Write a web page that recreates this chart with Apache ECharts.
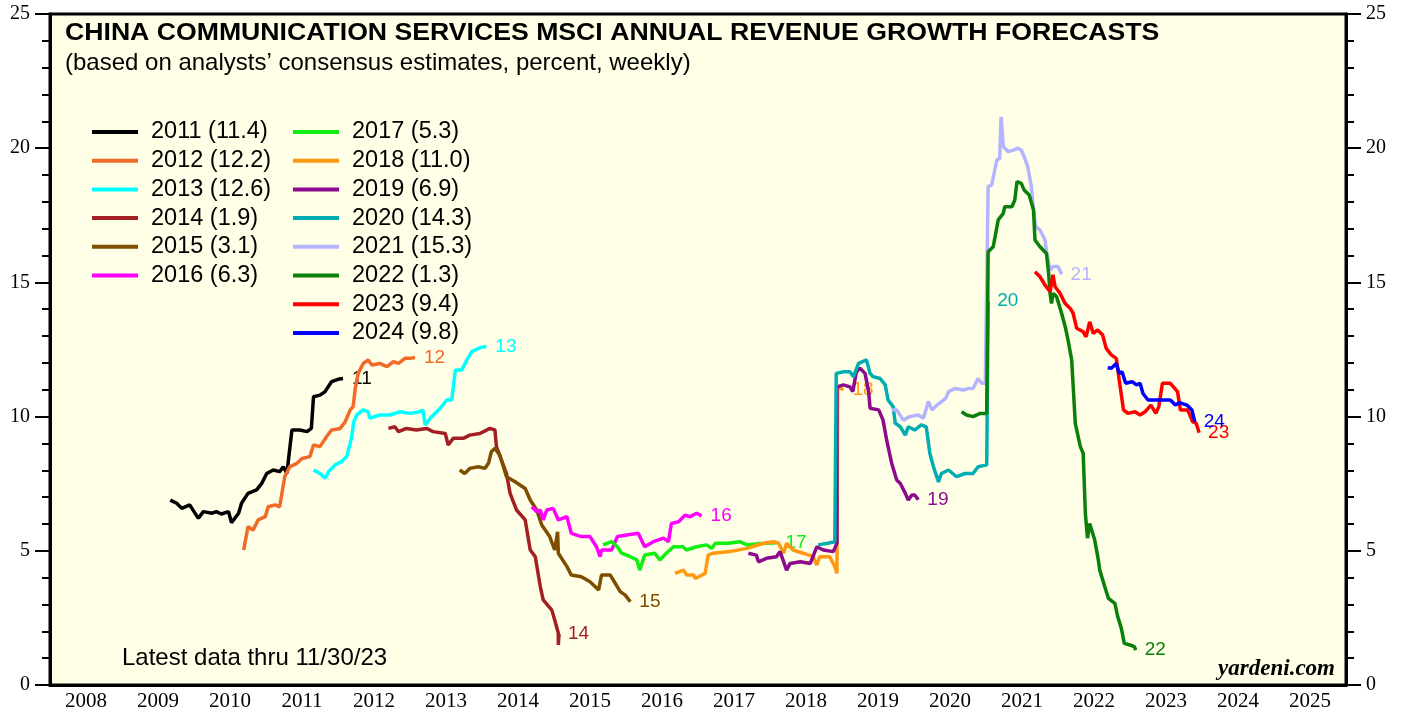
<!DOCTYPE html>
<html>
<head>
<meta charset="utf-8">
<script src="https://cdn.jsdelivr.net/npm/echarts@6/dist/echarts.min.js"></script>
<style>
  html, body { margin: 0; padding: 0; background: #fff; }
  #chart { width: 1405px; height: 719px; }
</style>
</head>
<body>
<div id="chart"></div>
<script>
// x axis labels (one per calendar year)
const yearLabels = ['2008', '2009', '2010', '2011', '2012', '2013', '2014', '2015', '2016',
  '2017', '2018', '2019', '2020', '2021', '2022', '2023', '2024', '2025'];

// forecast years and their latest values (legend)
const forecastYears = ['2011', '2012', '2013', '2014', '2015', '2016', '2017',
  '2018', '2019', '2020', '2021', '2022', '2023', '2024'];
const latestValues = [11.4, 12.2, 12.6, 1.9, 3.1, 6.3, 5.3, 11.0, 6.9, 14.3, 15.3, 1.3, 9.4, 9.8];

// weekly forecasts: [decimal year, percent]
const f2011 = [[2009.67, 6.89], [2009.76, 6.77], [2009.83, 6.58], [2009.94, 6.71], [2010.06, 6.21],
  [2010.13, 6.46], [2010.25, 6.40], [2010.31, 6.46], [2010.38, 6.37], [2010.48, 6.46], [2010.52, 6.05],
  [2010.62, 6.40], [2010.66, 6.77], [2010.75, 7.14], [2010.87, 7.27], [2010.94, 7.51], [2011.01, 7.88],
  [2011.10, 8.01], [2011.19, 7.95], [2011.24, 8.13], [2011.29, 7.88], [2011.36, 9.50], [2011.47, 9.50],
  [2011.57, 9.44], [2011.63, 9.56], [2011.66, 10.74], [2011.75, 10.80], [2011.82, 10.93], [2011.91, 11.30],
  [2012.00, 11.39], [2012.07, 11.42]];
const f2012 = [[2010.69, 5.03], [2010.75, 5.90], [2010.82, 5.77], [2010.89, 6.15], [2010.99, 6.27],
  [2011.03, 6.64], [2011.13, 6.71], [2011.19, 6.64], [2011.26, 7.76], [2011.33, 8.13], [2011.43, 8.26],
  [2011.50, 8.44], [2011.61, 8.51], [2011.66, 8.94], [2011.75, 8.88], [2011.84, 9.25], [2011.91, 9.50],
  [2012.03, 9.56], [2012.10, 9.81], [2012.17, 10.25], [2012.21, 10.37], [2012.24, 11.05], [2012.28, 11.61],
  [2012.35, 11.98], [2012.42, 12.11], [2012.47, 11.92], [2012.58, 11.98], [2012.68, 11.86], [2012.77, 12.05],
  [2012.84, 11.98], [2012.93, 12.17], [2013.00, 12.17], [2013.07, 12.2]];
const f2013 = [[2011.66, 8.01], [2011.75, 7.88], [2011.82, 7.70], [2011.87, 7.95], [2011.96, 8.20],
  [2012.05, 8.32], [2012.12, 8.51], [2012.17, 9.00], [2012.19, 9.25], [2012.22, 9.81], [2012.26, 10.06],
  [2012.35, 10.25], [2012.42, 10.18], [2012.44, 9.94], [2012.58, 10.06], [2012.72, 10.06], [2012.86, 10.18],
  [2013.00, 10.12], [2013.14, 10.18], [2013.18, 10.25], [2013.21, 9.69], [2013.28, 9.94], [2013.42, 10.31],
  [2013.51, 10.62], [2013.58, 10.62], [2013.63, 11.74], [2013.72, 11.74], [2013.79, 12.11], [2013.86, 12.42],
  [2013.95, 12.54], [2014.02, 12.60], [2014.06, 12.6]];
const f2014 = [[2012.70, 9.56], [2012.79, 9.62], [2012.84, 9.44], [2012.95, 9.56], [2013.09, 9.50],
  [2013.23, 9.56], [2013.32, 9.44], [2013.49, 9.37], [2013.53, 8.94], [2013.60, 9.19], [2013.74, 9.19],
  [2013.83, 9.31], [2013.97, 9.37], [2014.11, 9.56], [2014.18, 9.50], [2014.20, 8.88], [2014.34, 7.88],
  [2014.39, 7.14], [2014.48, 6.52], [2014.60, 6.15], [2014.67, 5.03], [2014.74, 4.78], [2014.81, 3.66],
  [2014.85, 3.17], [2014.97, 2.79], [2015.01, 2.42], [2015.06, 1.93], [2015.06, 1.49], [2015.07, 1.9]];
const f2015 = [[2013.69, 8.01], [2013.76, 7.88], [2013.83, 8.07], [2013.95, 8.13], [2014.04, 8.07],
  [2014.09, 8.26], [2014.13, 8.69], [2014.18, 8.82], [2014.25, 8.55], [2014.34, 7.76], [2014.46, 7.57],
  [2014.60, 7.32], [2014.67, 6.89], [2014.76, 6.52], [2014.83, 5.96], [2014.94, 5.53], [2015.01, 5.03],
  [2015.05, 5.71], [2015.06, 4.91], [2015.18, 4.41], [2015.24, 4.10], [2015.38, 4.03], [2015.50, 3.85],
  [2015.62, 3.54], [2015.66, 4.10], [2015.78, 4.10], [2015.85, 3.79], [2015.92, 3.48], [2015.99, 3.35],
  [2016.06, 3.1]];
const f2016 = [[2014.69, 6.64], [2014.76, 6.46], [2014.81, 6.52], [2014.85, 6.15], [2014.90, 6.52],
  [2014.99, 6.58], [2015.06, 6.15], [2015.18, 6.27], [2015.24, 5.65], [2015.38, 5.53], [2015.50, 5.53],
  [2015.59, 5.15], [2015.64, 4.78], [2015.66, 5.03], [2015.80, 5.03], [2015.88, 5.53], [2016.01, 5.59],
  [2016.17, 5.65], [2016.26, 5.15], [2016.38, 5.34], [2016.52, 5.47], [2016.59, 5.34], [2016.63, 6.02],
  [2016.73, 6.08], [2016.82, 6.33], [2016.89, 6.27], [2016.98, 6.40], [2017.05, 6.3]];
const f2017 = [[2015.68, 5.22], [2015.80, 5.34], [2015.88, 5.15], [2015.94, 4.91], [2016.06, 4.78],
  [2016.15, 4.66], [2016.19, 4.28], [2016.26, 4.84], [2016.40, 4.91], [2016.47, 4.66], [2016.56, 4.91],
  [2016.66, 5.15], [2016.79, 5.15], [2016.84, 5.03], [2016.98, 5.15], [2017.12, 5.22], [2017.19, 5.09],
  [2017.24, 5.28], [2017.42, 5.28], [2017.58, 5.34], [2017.68, 5.22], [2017.81, 5.25], [2017.95, 5.28],
  [2018.09, 5.3]];
const f2018 = [[2016.68, 4.16], [2016.80, 4.28], [2016.84, 4.10], [2016.94, 4.10], [2016.96, 3.97],
  [2017.10, 4.16], [2017.14, 4.84], [2017.21, 4.91], [2017.44, 4.97], [2017.68, 5.09], [2017.91, 5.28],
  [2018.05, 5.34], [2018.12, 5.28], [2018.19, 4.91], [2018.23, 5.28], [2018.32, 5.03], [2018.46, 4.91],
  [2018.60, 4.78], [2018.65, 4.47], [2018.69, 4.78], [2018.83, 4.78], [2018.90, 4.41], [2018.93, 4.16],
  [2018.94, 11.1], [2019.02, 11.0]];
const f2019 = [[2017.70, 4.91], [2017.81, 4.84], [2017.84, 4.59], [2017.95, 4.72], [2018.09, 4.78],
  [2018.14, 4.97], [2018.19, 4.59], [2018.23, 4.28], [2018.28, 4.53], [2018.42, 4.59], [2018.56, 4.53],
  [2018.65, 5.15], [2018.74, 5.03], [2018.88, 4.97], [2018.93, 5.28], [2018.93, 11.11], [2019.02, 11.18],
  [2019.11, 11.11], [2019.15, 10.93], [2019.20, 11.67], [2019.25, 11.80], [2019.32, 11.61], [2019.37, 10.93],
  [2019.39, 10.31], [2019.51, 10.25], [2019.57, 9.87], [2019.62, 9.13], [2019.67, 8.51], [2019.69, 8.26],
  [2019.76, 7.64], [2019.81, 7.51], [2019.88, 7.14], [2019.92, 6.89], [2019.97, 7.08], [2020.01, 7.08],
  [2020.06, 6.9]];
const f2020 = [[2018.67, 5.22], [2018.80, 5.28], [2018.90, 5.34], [2018.92, 11.61], [2019.02, 11.67],
  [2019.11, 11.67], [2019.16, 11.49], [2019.23, 11.98], [2019.34, 12.11], [2019.39, 11.61], [2019.43, 11.49],
  [2019.53, 11.42], [2019.60, 11.18], [2019.64, 10.62], [2019.71, 10.37], [2019.74, 9.75], [2019.81, 9.62],
  [2019.88, 9.31], [2019.92, 9.62], [2020.01, 9.50], [2020.10, 9.69], [2020.17, 9.62], [2020.22, 8.63],
  [2020.27, 8.13], [2020.34, 7.57], [2020.38, 7.88], [2020.48, 8.01], [2020.59, 7.76], [2020.71, 7.88],
  [2020.82, 7.88], [2020.89, 8.13], [2021.01, 8.20], [2021.03, 14.3]];
const f2021 = [[2019.69, 10.25], [2019.76, 10.25], [2019.85, 9.87], [2019.94, 10.00], [2020.06, 10.06],
  [2020.13, 9.94], [2020.20, 10.56], [2020.25, 10.25], [2020.32, 10.43], [2020.44, 10.68], [2020.48, 10.93],
  [2020.57, 11.05], [2020.69, 10.99], [2020.76, 11.05], [2020.82, 11.05], [2020.89, 11.42], [2020.94, 11.24],
  [2020.99, 11.24], [2021.03, 18.57], [2021.08, 18.63], [2021.15, 19.56], [2021.19, 19.62], [2021.21, 21.17],
  [2021.24, 20.06], [2021.31, 19.87], [2021.38, 19.93], [2021.44, 20.00], [2021.49, 19.93], [2021.53, 19.68],
  [2021.58, 19.31], [2021.63, 18.57], [2021.66, 17.70], [2021.69, 17.08], [2021.75, 16.95], [2021.82, 16.58],
  [2021.84, 16.14], [2021.89, 15.46], [2021.93, 15.59], [2022.00, 15.59], [2022.05, 15.3]];
const f2022 = [[2020.66, 10.18], [2020.73, 10.06], [2020.82, 10.00], [2020.92, 10.12], [2021.01, 10.12],
  [2021.03, 16.14], [2021.10, 16.33], [2021.17, 17.33], [2021.24, 17.57], [2021.26, 17.82], [2021.36, 17.82],
  [2021.40, 18.07], [2021.43, 18.75], [2021.49, 18.69], [2021.53, 18.44], [2021.60, 18.26], [2021.66, 17.70],
  [2021.68, 16.58], [2021.75, 16.33], [2021.84, 16.08], [2021.87, 15.33], [2021.89, 14.59], [2021.91, 14.21],
  [2021.93, 14.59], [2021.98, 14.47], [2022.05, 13.85], [2022.10, 13.35], [2022.14, 12.85], [2022.19, 12.11],
  [2022.24, 9.75], [2022.31, 8.88], [2022.35, 8.63], [2022.38, 6.39], [2022.41, 5.47], [2022.44, 6.02],
  [2022.51, 5.40], [2022.56, 4.66], [2022.58, 4.28], [2022.65, 3.66], [2022.70, 3.23], [2022.79, 3.04],
  [2022.83, 2.54], [2022.88, 2.11], [2022.92, 1.55], [2023.00, 1.49], [2023.06, 1.43], [2023.08, 1.3]];
const f2023 = [[2021.68, 15.40], [2021.75, 15.21], [2021.82, 14.90], [2021.89, 14.65], [2021.93, 15.28],
  [2021.96, 14.84], [2022.03, 14.59], [2022.10, 14.21], [2022.17, 14.03], [2022.21, 13.85], [2022.26, 13.29],
  [2022.35, 13.16], [2022.39, 12.97], [2022.44, 13.53], [2022.49, 13.10], [2022.55, 13.23], [2022.62, 13.04],
  [2022.67, 12.54], [2022.74, 12.30], [2022.81, 12.17], [2022.85, 11.36], [2022.91, 10.25], [2022.97, 10.12],
  [2023.07, 10.18], [2023.14, 10.06], [2023.21, 10.18], [2023.29, 10.43], [2023.36, 10.12], [2023.40, 10.37],
  [2023.45, 11.24], [2023.56, 11.24], [2023.66, 10.93], [2023.70, 10.25], [2023.80, 10.25], [2023.84, 10.00],
  [2023.87, 9.81], [2023.92, 9.75], [2023.96, 9.4]];
const f2024 = [[2022.69, 11.82], [2022.74, 11.80], [2022.81, 11.98], [2022.85, 11.61], [2022.89, 11.67],
  [2022.94, 11.24], [2023.03, 11.30], [2023.09, 11.18], [2023.14, 11.24], [2023.18, 10.86], [2023.25, 10.62],
  [2023.42, 10.62], [2023.56, 10.62], [2023.63, 10.43], [2023.69, 10.52], [2023.79, 10.43], [2023.86, 10.25],
  [2023.90, 9.8]];

const forecasts = [f2011, f2012, f2013, f2014, f2015, f2016, f2017, f2018, f2019, f2020, f2021, f2022, f2023, f2024];
const colors = ['#000000', '#f06a28', '#00ffff', '#a31f24', '#7d4e00', '#ff00ff', '#11ee11',
  '#ff9912', '#8c0a8c', '#00adb0', '#b4b4ff', '#0a800a', '#ff0000', '#0000ff'];

const names = forecastYears.map((y, i) => `${y} (${latestValues[i].toFixed(1)})`);

const series = forecasts.map((data, i) => ({
  name: names[i],
  type: 'line',
  data: data,
  xAxisIndex: 0,
  yAxisIndex: 0,
  symbol: 'none',
  z: 2 + i,
  lineStyle: {color: colors[i], width: 3.5},
  itemStyle: {color: colors[i]},
  endLabel: {
    show: true,
    formatter: forecastYears[i].slice(2),
    color: colors[i],
    fontSize: 19,
    fontFamily: 'Liberation Sans',
    distance: 9,
  },
}));

const legendBase = {
  orient: 'vertical',
  top: 120,
  padding: 0,
  icon: 'rect',
  itemWidth: 46,
  itemHeight: 4,
  itemGap: 4.7,
  selectedMode: false,
  textStyle: {color: '#000', fontSize: 23.5, fontFamily: 'Liberation Sans', lineHeight: 24, padding: [0, 0, 0, 8]},
};

const yAxisFor = (pos) => ({
  type: 'value',
  position: pos,
  min: 0,
  max: 25,
  interval: 5,
  axisLine: {show: true, lineStyle: {color: '#000', width: 3}},
  axisTick: {show: true, length: 15, lineStyle: {color: '#000', width: 2}},
  minorTick: {show: true, splitNumber: 5, length: 8, lineStyle: {color: '#000', width: 2}},
  axisLabel: {color: '#000', fontFamily: 'Liberation Serif', fontSize: 20, margin: 20},
  splitLine: {show: false},
});

const myChart = echarts.init(document.getElementById('chart'));
const option = {
  animation: false,
  backgroundColor: '#fff',
  grid: {
    left: 50, right: 59, top: 14, bottom: 34,
    show: true, backgroundColor: '#fffee6', borderColor: '#000', borderWidth: 3,
  },
  legend: [
    {...legendBase, left: 92, data: names.slice(0, 6)},
    {...legendBase, left: 293, data: names.slice(6)},
  ],
  xAxis: [
    {type: 'value', min: 2008, max: 2026, show: false},
    {
      type: 'category',
      data: yearLabels,
      boundaryGap: true,
      position: 'bottom',
      axisLine: {lineStyle: {color: '#000', width: 3}},
      axisTick: {length: 15, interval: 0, lineStyle: {color: '#000', width: 3}},
      axisLabel: {color: '#000', fontFamily: 'Liberation Serif', fontSize: 21, margin: 6, interval: 0},
      splitLine: {show: false},
    },
  ],
  yAxis: [yAxisFor('left'), yAxisFor('right')],
  graphic: [
    {
      type: 'text', x: 65, y: 33, z: 100, scaleX: 1.11,
      style: {
        text: 'CHINA COMMUNICATION SERVICES MSCI ANNUAL REVENUE GROWTH FORECASTS',
        font: 'bold 24px "Liberation Sans"', fill: '#000', verticalAlign: 'middle',
      },
    },
    {
      type: 'text', x: 65, y: 63, z: 100,
      style: {
        text: '(based on analysts\u2019 consensus estimates, percent, weekly)',
        font: '24px "Liberation Sans"', fill: '#000', verticalAlign: 'middle',
      },
    },
    {
      type: 'text', x: 122, y: 658, z: 100,
      style: {text: 'Latest data thru 11/30/23', font: '24px "Liberation Sans"', fill: '#000', verticalAlign: 'middle'},
    },
    {
      type: 'text', x: 1335, y: 669, z: 100,
      style: {
        text: 'yardeni.com', font: 'italic bold 23px "Liberation Serif"', fill: '#000',
        align: 'right', verticalAlign: 'middle',
      },
    },
  ],
  series: series,
};
myChart.setOption(option);
</script>
</body>
</html>
